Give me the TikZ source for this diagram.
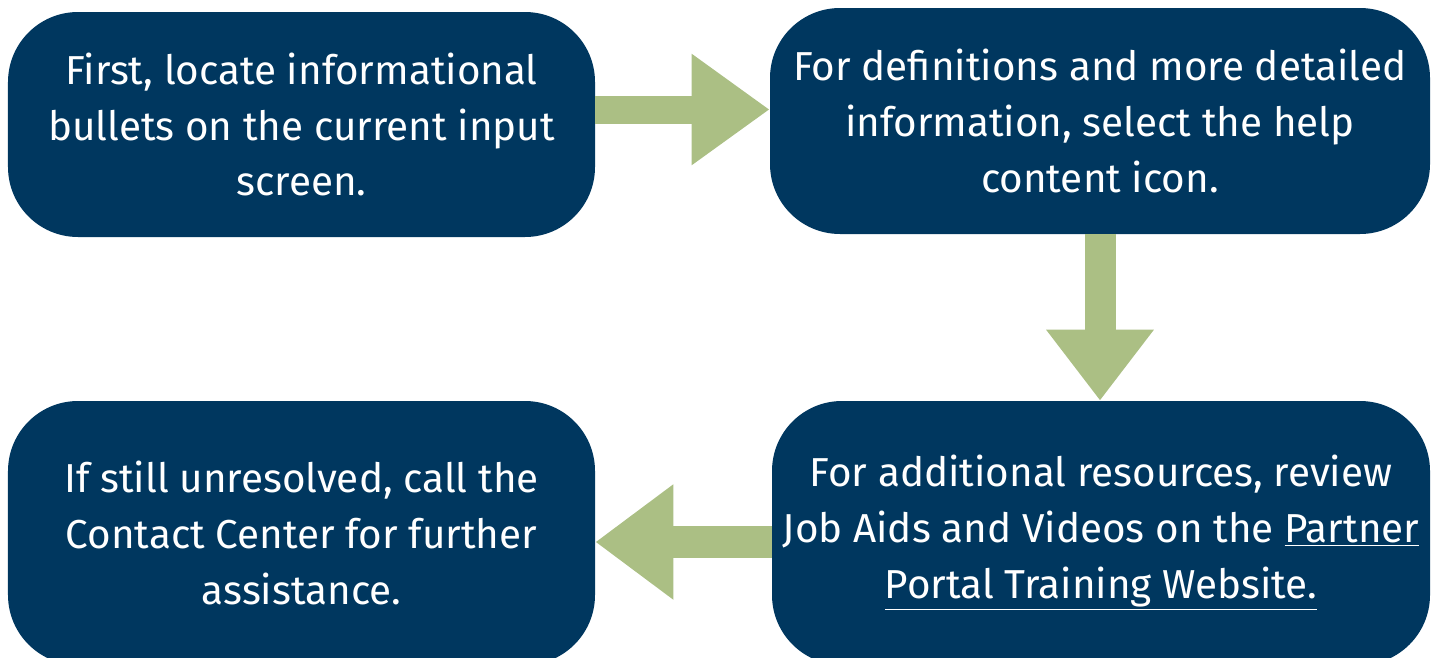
\documentclass[tikz,border=0pt]{standalone}
\usepackage{fontspec}
\setmainfont{Fira Sans}
\usepackage{tikz}
\usetikzlibrary{arrows.meta, positioning}
\definecolor{navy}{HTML}{00375F}
\definecolor{sage}{HTML}{ABBF84}
\tikzset{
  stepbox/.style={fill=navy, rounded corners=1.4cm, text=white, align=center,
    inner sep=0pt, font=\fontsize{23}{31.8}\selectfont},
  flow/.style={draw=sage, line width=#1}
}

\begin{document}
\begin{tikzpicture}
\useasboundingbox (0,0) rectangle (28.74,-13.16);

% the four steps
\node[stepbox, minimum width=11.74cm, minimum height=4.5cm] (locate) at (6.03,-2.49)
  {First, locate informational\\ bullets on the current input\\ screen.};
\node[stepbox, minimum width=13.2cm, minimum height=4.52cm] (help) at (22.0,-2.42)
  {For definitions and more detailed\\ information, select the help\\ content icon.};
\node[stepbox, minimum width=13.16cm, minimum height=5.28cm] (aids) at (22.02,-10.66)
  {For additional resources, review\\ Job Aids and Videos on the \underline{Partner}\\ \underline{Portal Training Website.}};
\node[stepbox, minimum width=11.74cm, minimum height=5.28cm] (call) at (6.03,-10.66)
  {If still unresolved, call the\\ Contact Center for further\\ assistance.};

% block arrows between them
\coordinate (r1) at ([yshift=0.3cm]locate.east);
\draw[flow=0.56cm, -{Triangle[width=2.12cm,length=1.56cm]}] (r1) -- (r1 -| help.west);
\draw[flow=0.62cm, -{Triangle[width=2.06cm,length=1.42cm]}] (help.south) -- (help.south |- aids.north);
\coordinate (l1) at ([yshift=-0.18cm]aids.west);
\draw[flow=0.64cm, -{Triangle[width=2.2cm,length=1.56cm]}] (l1) -- (l1 -| call.east);
\end{tikzpicture}
\end{document}
